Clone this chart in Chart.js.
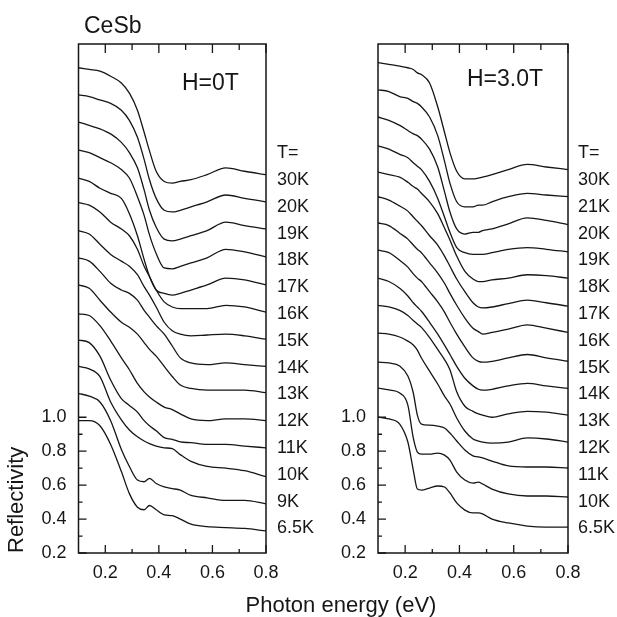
<!DOCTYPE html>
<html><head><meta charset="utf-8">
<script src="https://cdn.jsdelivr.net/npm/chart.js@4"></script>
<style>
html,body{margin:0;padding:0;background:#fff;}
#wrap{position:relative;width:617px;height:617px;background:#fff;}
canvas{position:absolute;left:0;top:0;}
</style></head><body>
<div id="wrap"><canvas id="cL" width="617" height="617"></canvas><canvas id="cR" width="617" height="617"></canvas></div>
<script>
// ---------- data (reflectivity curves, vertically offset as in the figure) ----------
const ENERGY_H0 = [0.10,0.14,0.18,0.22,0.26,0.29,0.32,0.345,0.365,0.39,0.42,0.45,0.48,0.52,0.58,0.65,0.72,0.80];
const TEMPS_H0 = ['30K','20K','19K','18K','17K','16K','15K','14K','13K','12K','11K','10K','9K','6.5K'];
const H0_30K = [3.06,3.05,3.04,3.01,2.97,2.91,2.81,2.68,2.57,2.45,2.39,2.38,2.39,2.40,2.43,2.47,2.45,2.43];
const H0_20K = [2.90,2.89,2.87,2.85,2.81,2.75,2.65,2.52,2.40,2.29,2.22,2.21,2.22,2.24,2.27,2.31,2.29,2.27];
const H0_19K = [2.74,2.72,2.70,2.67,2.62,2.56,2.47,2.34,2.22,2.12,2.05,2.04,2.05,2.07,2.10,2.15,2.13,2.11];
const H0_18K = [2.575,2.56,2.53,2.50,2.46,2.41,2.30,2.19,2.075,1.965,1.88,1.875,1.89,1.91,1.94,1.99,1.975,1.945];
const H0_17K = [2.41,2.39,2.35,2.32,2.29,2.20,2.07,1.93,1.83,1.75,1.73,1.72,1.73,1.75,1.78,1.82,1.81,1.78];
const H0_16K = [2.265,2.25,2.21,2.15,2.11,2.07,1.99,1.89,1.83,1.75,1.68,1.65,1.64,1.64,1.64,1.66,1.65,1.62];
const H0_15K = [2.10,2.08,2.02,1.96,1.92,1.89,1.84,1.77,1.72,1.65,1.56,1.51,1.49,1.48,1.485,1.49,1.48,1.46];
const H0_14K = [1.94,1.92,1.86,1.79,1.75,1.73,1.69,1.63,1.59,1.54,1.49,1.42,1.35,1.32,1.31,1.32,1.31,1.30];
const H0_13K = [1.78,1.76,1.69,1.62,1.56,1.53,1.49,1.44,1.40,1.36,1.30,1.24,1.19,1.17,1.16,1.16,1.16,1.145];
const H0_12K = [1.61,1.60,1.54,1.45,1.35,1.28,1.20,1.15,1.12,1.09,1.06,1.045,1.02,0.99,0.98,0.99,0.99,0.98];
const H0_11K = [1.455,1.44,1.36,1.22,1.11,1.07,1.03,0.98,0.95,0.92,0.88,0.87,0.855,0.85,0.84,0.84,0.83,0.82];
const H0_10K = [1.30,1.285,1.24,1.09,0.985,0.925,0.885,0.86,0.845,0.83,0.82,0.815,0.78,0.74,0.71,0.70,0.685,0.65];
const H0_9K  = [1.14,1.125,1.09,0.98,0.81,0.71,0.63,0.62,0.64,0.61,0.59,0.58,0.57,0.54,0.525,0.51,0.51,0.49];
const H0_6p5K = [0.98,0.98,0.95,0.84,0.68,0.55,0.47,0.455,0.48,0.455,0.425,0.42,0.40,0.37,0.355,0.35,0.345,0.33];

const ENERGY_H3 = [0.10,0.14,0.18,0.21,0.23,0.245,0.26,0.29,0.32,0.345,0.365,0.39,0.42,0.45,0.47,0.485,0.52,0.58,0.65,0.72,0.80];
const TEMPS_H3 = ['30K','21K','20K','19K','18K','17K','16K','15K','14K','13K','12K','11K','10K','6.5K'];
const H3_30K = [3.09,3.08,3.07,3.06,3.05,3.03,3.02,2.97,2.83,2.68,2.56,2.45,2.405,2.405,2.41,2.415,2.43,2.46,2.49,2.475,2.46];
const H3_21K = [2.93,2.92,2.89,2.88,2.86,2.85,2.83,2.77,2.66,2.51,2.38,2.27,2.24,2.24,2.25,2.25,2.27,2.30,2.32,2.31,2.30];
const H3_20K = [2.77,2.75,2.72,2.69,2.67,2.66,2.64,2.58,2.475,2.33,2.21,2.11,2.08,2.09,2.09,2.10,2.11,2.14,2.175,2.16,2.135];
const H3_19K = [2.60,2.58,2.55,2.53,2.50,2.48,2.46,2.39,2.29,2.18,2.09,2.00,1.97,1.96,1.96,1.96,1.97,1.99,2.00,1.99,1.975];
const H3_18K = [2.445,2.43,2.415,2.385,2.36,2.345,2.32,2.27,2.20,2.115,2.045,1.95,1.86,1.815,1.80,1.80,1.81,1.82,1.84,1.835,1.82];
const H3_17K = [2.30,2.28,2.245,2.215,2.18,2.155,2.13,2.07,2.015,1.95,1.89,1.815,1.74,1.675,1.65,1.645,1.65,1.67,1.69,1.675,1.655];
const H3_16K = [2.145,2.13,2.085,2.05,2.015,1.99,1.97,1.91,1.85,1.79,1.73,1.66,1.585,1.525,1.505,1.49,1.50,1.52,1.545,1.525,1.50];
const H3_15K = [1.985,1.97,1.925,1.885,1.845,1.82,1.80,1.74,1.68,1.62,1.56,1.49,1.415,1.35,1.33,1.325,1.33,1.35,1.37,1.35,1.33];
const H3_14K = [1.82,1.80,1.76,1.715,1.675,1.65,1.625,1.56,1.49,1.425,1.37,1.30,1.23,1.185,1.165,1.16,1.165,1.185,1.20,1.185,1.17];
const H3_13K = [1.66,1.65,1.63,1.60,1.57,1.55,1.53,1.47,1.40,1.34,1.28,1.15,1.065,1.035,1.02,1.013,1.00,1.02,1.035,1.03,1.013];
const H3_12K = [1.496,1.49,1.473,1.449,1.426,1.396,1.349,1.272,1.196,1.125,1.078,0.996,0.919,0.872,0.86,0.854,0.848,0.854,0.878,0.872,0.854];
const H3_11K = [1.325,1.32,1.302,1.243,1.143,1.013,0.96,0.954,0.948,0.937,0.907,0.86,0.807,0.772,0.766,0.76,0.742,0.713,0.707,0.707,0.701];
const H3_10K = [1.172,1.161,1.143,1.072,0.878,0.795,0.783,0.783,0.789,0.777,0.748,0.677,0.63,0.612,0.618,0.607,0.577,0.548,0.536,0.536,0.53];
const H3_6p5K = [1.001,0.99,0.96,0.854,0.689,0.577,0.571,0.583,0.595,0.589,0.554,0.495,0.453,0.436,0.436,0.43,0.40,0.377,0.359,0.353,0.353];

const X_LABELED = [0.2,0.4,0.6,0.8];
const X_MINOR = [0.3,0.5,0.7];
const Y_LABELED = [0.2,0.4,0.6,0.8,1.0];
const Y_MINOR = [0.3,0.5,0.7,0.9];

const SERIES_H0 = [H0_30K,H0_20K,H0_19K,H0_18K,H0_17K,H0_16K,H0_15K,H0_14K,H0_13K,H0_12K,H0_11K,H0_10K,H0_9K,H0_6p5K];
const SERIES_H3 = [H3_30K,H3_21K,H3_20K,H3_19K,H3_18K,H3_17K,H3_16K,H3_15K,H3_14K,H3_13K,H3_12K,H3_11K,H3_10K,H3_6p5K];

// ---------- drawing ----------
const INK = '#161616';
const FONT = '"Liberation Sans", Arial, sans-serif';
Chart.defaults.font.family = FONT;
Chart.defaults.color = INK;

const framePlugin = {
  id: 'frame',
  afterDraw(chart, args, o) {
    const {ctx, chartArea: a, scales: {x, y}} = chart;
    ctx.save();
    ctx.strokeStyle = INK;
    ctx.lineWidth = 1.5;
    ctx.strokeRect(a.left, a.top, a.right - a.left, a.bottom - a.top);
    ctx.lineWidth = 1.3;
    ctx.beginPath();
    X_LABELED.forEach(v => { const p = x.getPixelForValue(v);
      ctx.moveTo(p, a.bottom); ctx.lineTo(p, a.bottom - 8);
      ctx.moveTo(p, a.top); ctx.lineTo(p, a.top + 9); });
    X_MINOR.forEach(v => { const p = x.getPixelForValue(v);
      ctx.moveTo(p, a.bottom); ctx.lineTo(p, a.bottom - 4);
      ctx.moveTo(p, a.top); ctx.lineTo(p, a.top + 6); });
    Y_LABELED.forEach(v => { const p = y.getPixelForValue(v);
      ctx.moveTo(a.left, p); ctx.lineTo(a.left + 8, p); });
    Y_MINOR.forEach(v => { const p = y.getPixelForValue(v);
      ctx.moveTo(a.left, p); ctx.lineTo(a.left + 4, p); });
    ctx.stroke();

    ctx.fillStyle = INK;
    ctx.textAlign = 'left';
    ctx.textBaseline = 'alphabetic';
    ctx.font = '23px ' + FONT;
    ctx.fillText(o.field, o.fieldX, o.fieldY);
    ctx.font = '18px ' + FONT;
    const lx = a.right + o.labelGap;
    ctx.fillText('T=', lx, a.top + 114);
    o.temps.forEach((t, i) => ctx.fillText(t, lx, a.top + 141 + i * 26.8));
    if (o.extra) {
      ctx.font = '23px ' + FONT;
      ctx.fillText('CeSb', 84, 33);
      ctx.font = '22px ' + FONT;
      ctx.textAlign = 'center';
      ctx.fillText('Photon energy (eV)', 341, 612);
    }
    ctx.restore();
  }
};

function makeChart(id, energy, series, temps, geo) {
  const datasets = series.map((vals, i) => ({
    label: temps[i],
    data: energy.map((e, k) => ({x: e, y: vals[k]})),
    borderColor: INK,
    borderWidth: 1.3,
    pointRadius: 0,
    fill: false,
    cubicInterpolationMode: 'monotone'
  }));
  return new Chart(document.getElementById(id), {
    type: 'line',
    data: {datasets},
    plugins: [framePlugin],
    options: {
      responsive: false,
      animation: false,
      events: [],
      layout: {padding: {left: geo.padLeft, right: geo.padRight, top: 44, bottom: 0}},
      plugins: {
        legend: {display: false},
        tooltip: {enabled: false},
        frame: {field: geo.field, fieldX: geo.fieldX, fieldY: geo.fieldY, temps, labelGap: geo.labelGap, extra: geo.extra}
      },
      scales: {
        x: {
          type: 'linear', position: 'bottom', min: 0.1, max: 0.8,
          afterBuildTicks: s => { s.ticks = X_LABELED.map(v => ({value: v})); },
          afterFit: s => { s.height = 64; s.paddingLeft = 0; s.paddingRight = 0; },
          grid: {display: false, drawTicks: false}, border: {display: false},
          ticks: {autoSkip: false, maxRotation: 0, padding: 9, font: {size: 18}, color: INK,
                  callback: v => Number(v).toFixed(1)}
        },
        y: {
          type: 'linear', position: 'left', min: 0.2, max: 3.2,
          afterBuildTicks: s => { s.ticks = Y_LABELED.map(v => ({value: v})); },
          afterFit: s => { s.width = geo.yWidth; s.paddingTop = 0; s.paddingBottom = 0; },
          grid: {display: false, drawTicks: false}, border: {display: false},
          ticks: {autoSkip: false, padding: 12, font: {size: 18}, color: INK,
                  callback: v => Number(v).toFixed(1)},
          title: {display: geo.extra, text: 'Reflectivity', align: 'start',
                  font: {size: 22}, color: INK, padding: {top: 4, bottom: 0}}
        }
      }
    }
  });
}

makeChart('cL', ENERGY_H0, SERIES_H0, TEMPS_H0,
  {padLeft: 0, padRight: 351, yWidth: 78.5, field: 'H=0T', fieldX: 182, fieldY: 90, labelGap: 11, extra: true});
makeChart('cR', ENERGY_H3, SERIES_H3, TEMPS_H3,
  {padLeft: 300, padRight: 49, yWidth: 78, field: 'H=3.0T', fieldX: 467, fieldY: 86, labelGap: 10, extra: false});
</script></body></html>
